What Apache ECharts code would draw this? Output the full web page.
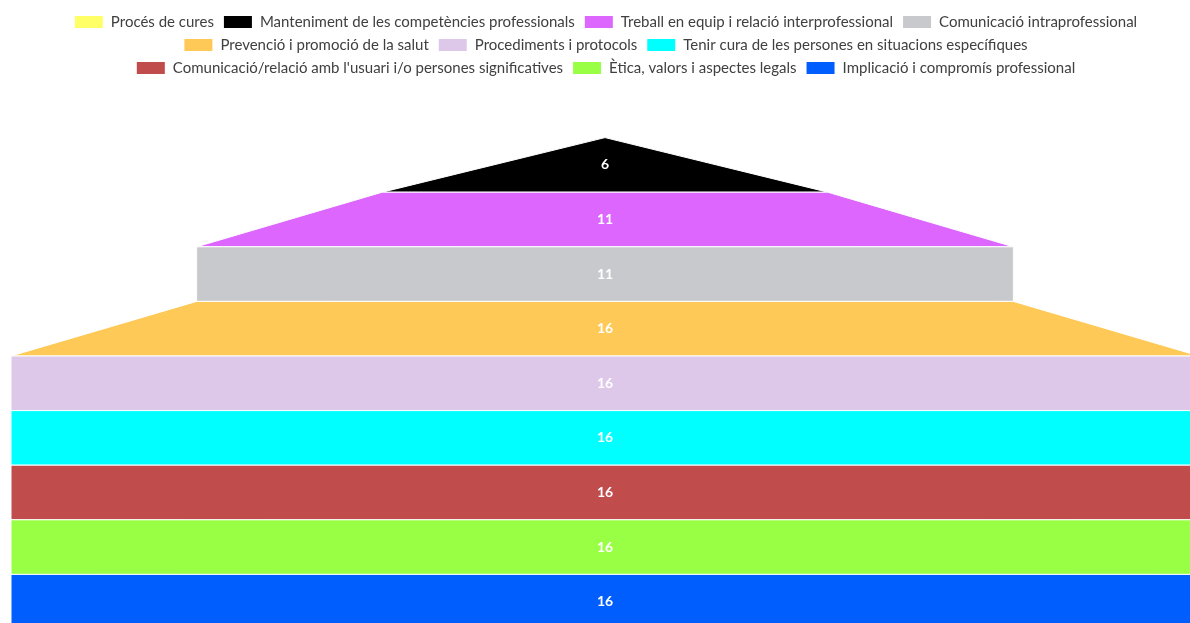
<!DOCTYPE html>
<html>
<head>
<meta charset="utf-8">
<script src="https://cdn.jsdelivr.net/npm/echarts@6/dist/echarts.min.js"></script>
<style>
html,body{margin:0;padding:0;overflow:hidden;background:#fff;width:1190px;height:623px;}
#chart{width:1210px;height:630px;}
</style>
</head>
<body>
<div id="chart"></div>
<script>
const categories = [
  "Procés de cures",
  "Manteniment de les competències professionals",
  "Treball en equip i relació interprofessional",
  "Comunicació intraprofessional",
  "Prevenció i promoció de la salut",
  "Procediments i protocols",
  "Tenir cura de les persones en situacions específiques",
  "Comunicació/relació amb l'usuari i/o persones significatives",
  "Ètica, valors i aspectes legals",
  "Implicació i compromís professional"
];
const values = [0, 6, 11, 11, 16, 16, 16, 16, 16, 16];
const colors = ["#ffff66", "#000000", "#dd66ff", "#c8c9cd", "#ffc957", "#dec8ea", "#00ffff", "#c04c4c", "#99ff44", "#005eff"];
const legendRows = [[0, 4], [4, 7], [7, 10]];
const legendTops = [9, 32, 55];

const chart = echarts.init(document.getElementById('chart'));
chart.setOption({
  animation: false,
  color: colors,
  legend: legendRows.map((r, k) => ({
    top: legendTops[k],
    left: 'center',
    icon: 'rect',
    itemWidth: 30,
    itemHeight: 14,
    itemGap: 8,
    textStyle: { fontFamily: 'Lato', fontSize: 15, lineHeight: 15, color: '#404040', padding: [0, 0, 0, 2] },
    data: categories.slice(r[0], r[1])
  })),
  series: [{
    type: 'funnel',
    sort: 'ascending',
    min: 0,
    max: 16,
    minSize: '0%',
    maxSize: '100%',
    left: 11,
    right: 11,
    top: 83,
    bottom: 1,
    gap: 0,
    itemStyle: { borderColor: '#fff', borderWidth: 1 },
    label: {
      show: true,
      position: 'inside',
      color: '#fff',
      fontFamily: 'Lato',
      fontWeight: 'bold',
      fontSize: 14,
      formatter: '{c}'
    },
    labelLine: { show: false },
    emphasis: { disabled: true },
    data: categories.map((n, i) => ({ name: n, value: values[i] }))
  }]
});
</script>
</body>
</html>
